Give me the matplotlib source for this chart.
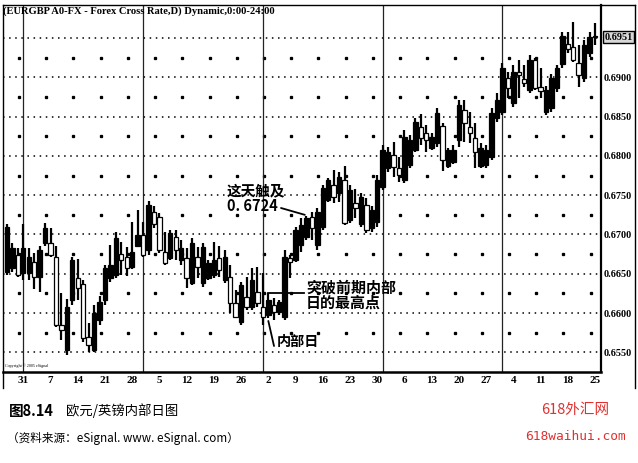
import numpy as np
import pandas as pd
import matplotlib
matplotlib.use('Agg')
import matplotlib.pyplot as plt
from matplotlib.lines import Line2D
import matplotlib.transforms as mtransforms

# EUR/GBP daily, 26 May 2004 - 25 Oct 2004
dates = pd.bdate_range('2004-05-26', '2004-10-25')

opens = [0.6652, 0.6657, 0.6674, 0.6651, 0.6651, 0.6665, 0.6646, 0.6689, 0.6689, 0.6671,
         0.6585, 0.6553, 0.6617, 0.6645, 0.6637, 0.6570, 0.6553, 0.6591, 0.6617, 0.6645,
         0.6649, 0.6675, 0.6671, 0.6659, 0.6685, 0.6699, 0.6680, 0.6729, 0.6722, 0.6678,
         0.6670, 0.6697, 0.6668, 0.6670, 0.6638, 0.6671, 0.6638, 0.6645, 0.6649, 0.6670,
         0.6642, 0.6646, 0.6613, 0.6589, 0.6620, 0.6608, 0.6627, 0.6608, 0.6598, 0.6610,
         0.6601, 0.6595, 0.6670, 0.6668, 0.6687, 0.6697, 0.6722, 0.6687, 0.6710, 0.6744,
         0.6763, 0.6753, 0.6769, 0.6718, 0.6740, 0.6713, 0.6738, 0.6708, 0.6716, 0.6760,
         0.6785, 0.6801, 0.6785, 0.6769, 0.6788, 0.6808, 0.6837, 0.6829, 0.6810, 0.6816,
         0.6838, 0.6787, 0.6792, 0.6820, 0.6858, 0.6837, 0.6823, 0.6787, 0.6788, 0.6799,
         0.6848, 0.6856, 0.6899, 0.6867, 0.6907, 0.6898, 0.6884, 0.6922, 0.6888, 0.6856,
         0.6861, 0.6886, 0.6917, 0.6942, 0.6938, 0.6918, 0.6899, 0.6931, 0.6953]
highs = [0.6713, 0.6689, 0.6683, 0.6713, 0.6683, 0.6677, 0.6685, 0.6715, 0.6708, 0.6685,
         0.6626, 0.6618, 0.6671, 0.6669, 0.6642, 0.6587, 0.6610, 0.6622, 0.6661, 0.6687,
         0.6703, 0.6690, 0.6684, 0.6716, 0.6731, 0.6716, 0.6743, 0.6736, 0.6727, 0.6703,
         0.6706, 0.6706, 0.6693, 0.6683, 0.6696, 0.6684, 0.6689, 0.6668, 0.6690, 0.6685,
         0.6680, 0.6661, 0.6629, 0.6640, 0.6646, 0.6657, 0.6659, 0.6651, 0.6626, 0.6619,
         0.6617, 0.6680, 0.6674, 0.6710, 0.6721, 0.6724, 0.6729, 0.6734, 0.6763, 0.6772,
         0.6782, 0.6780, 0.6787, 0.6763, 0.6758, 0.6753, 0.6746, 0.6736, 0.6776, 0.6814,
         0.6811, 0.6818, 0.6799, 0.6833, 0.6827, 0.6848, 0.6853, 0.6839, 0.6829, 0.6861,
         0.6842, 0.6810, 0.6814, 0.6871, 0.6871, 0.6856, 0.6842, 0.6816, 0.6814, 0.6861,
         0.6880, 0.6918, 0.6907, 0.6916, 0.6922, 0.6916, 0.6928, 0.6925, 0.6912, 0.6889,
         0.6904, 0.6916, 0.6958, 0.6958, 0.6970, 0.6941, 0.6947, 0.6958, 0.6969]
lows = [0.6649, 0.6652, 0.6646, 0.6642, 0.6642, 0.6631, 0.6627, 0.6685, 0.6671, 0.6582,
        0.6566, 0.6547, 0.6610, 0.6617, 0.6563, 0.6551, 0.6551, 0.6585, 0.6610, 0.6640,
        0.6645, 0.6649, 0.6647, 0.6656, 0.6684, 0.6671, 0.6674, 0.6708, 0.6677, 0.6661,
        0.6668, 0.6668, 0.6661, 0.6632, 0.6636, 0.6645, 0.6633, 0.6642, 0.6645, 0.6646,
        0.6638, 0.6600, 0.6594, 0.6585, 0.6604, 0.6604, 0.6608, 0.6585, 0.6594, 0.6591,
        0.6598, 0.6591, 0.6645, 0.6665, 0.6678, 0.6693, 0.6693, 0.6680, 0.6706, 0.6741,
        0.6740, 0.6741, 0.6712, 0.6715, 0.6721, 0.6710, 0.6702, 0.6703, 0.6710, 0.6757,
        0.6780, 0.6773, 0.6767, 0.6766, 0.6785, 0.6805, 0.6814, 0.6805, 0.6808, 0.6811,
        0.6781, 0.6785, 0.6790, 0.6811, 0.6818, 0.6816, 0.6785, 0.6785, 0.6785, 0.6795,
        0.6843, 0.6852, 0.6874, 0.6862, 0.6874, 0.6888, 0.6880, 0.6884, 0.6874, 0.6852,
        0.6856, 0.6881, 0.6912, 0.6931, 0.6919, 0.6888, 0.6894, 0.6926, 0.6941]
closes = [0.6710, 0.6683, 0.6649, 0.6683, 0.6671, 0.6646, 0.6680, 0.6708, 0.6674, 0.6585,
          0.6579, 0.6608, 0.6668, 0.6632, 0.6568, 0.6560, 0.6600, 0.6614, 0.6657, 0.6661,
          0.6696, 0.6668, 0.6657, 0.6678, 0.6699, 0.6674, 0.6738, 0.6713, 0.6680, 0.6664,
          0.6702, 0.6680, 0.6683, 0.6645, 0.6689, 0.6659, 0.6684, 0.6664, 0.6668, 0.6655,
          0.6671, 0.6613, 0.6595, 0.6636, 0.6608, 0.6642, 0.6613, 0.6595, 0.6617, 0.6601,
          0.6614, 0.6671, 0.6665, 0.6706, 0.6712, 0.6721, 0.6708, 0.6729, 0.6759, 0.6769,
          0.6748, 0.6773, 0.6715, 0.6757, 0.6734, 0.6748, 0.6706, 0.6731, 0.6769, 0.6808,
          0.6805, 0.6786, 0.6776, 0.6824, 0.6820, 0.6843, 0.6823, 0.6820, 0.6824, 0.6855,
          0.6795, 0.6808, 0.6808, 0.6865, 0.6842, 0.6829, 0.6805, 0.6810, 0.6808, 0.6855,
          0.6871, 0.6912, 0.6886, 0.6907, 0.6903, 0.6893, 0.6922, 0.6886, 0.6883, 0.6884,
          0.6899, 0.6912, 0.6953, 0.6936, 0.6922, 0.6903, 0.6941, 0.6951, 0.6951]

price_levels = [0.6550, 0.6600, 0.6650, 0.6700, 0.6750, 0.6800, 0.6850, 0.6900, 0.6950]
last_price = '0.6951'
touch_bar = 55      # 这天触及 0.6724
inside_bar = 48     # 内部日

serif = 'Liberation Serif'
cjk = ['Noto Sans CJK SC', 'DejaVu Sans']

W, H = 638, 463
fig = plt.figure(figsize=(W / 100, H / 100), dpi=100)
ax = fig.add_axes([3 / W, 1 - 372 / H, 598 / W, 367 / H])

x = np.arange(len(dates))
o = np.array(opens); c = np.array(closes)
hi = np.array(highs); lo = np.array(lows)

# grid
for lv in price_levels:
    ax.axhline(lv, color='black', lw=1.1, ls=(0, (1.0, 3.0)), zorder=1)
mondays = [i for i, d in enumerate(dates) if d.weekday() == 0]
for k in range(len(price_levels) - 1):
    mid = (price_levels[k] + price_levels[k + 1]) / 2
    ax.plot(np.array(mondays) - 0.8, [mid] * len(mondays), ls='none', marker='s',
            ms=1.4, color='black', zorder=1)

month_ends = [i for i in range(len(dates) - 1) if dates[i].month != dates[i + 1].month]
for m in month_ends:
    ax.axvline(m, color='#222222', lw=0.9, zorder=1)

# candles
ax.vlines(x, lo, hi, color='black', lw=1.6, zorder=2)
up = c >= o
body_h = np.maximum(np.abs(c - o), 0.00012)
ax.bar(x, body_h, bottom=np.minimum(o, c), width=0.8,
       color=np.where(up, 'black', 'white'), edgecolor='black', lw=0.9, zorder=3)

ax.set_xlim(-0.73, 109.1)
ax.set_ylim(0.65251, 0.69919)

ax.yaxis.tick_right()
ax.set_yticks(price_levels[:-1])
ax.set_yticklabels(['%.4f' % v for v in price_levels[:-1]])
ax.set_xticks(mondays)
ax.set_xticklabels([str(dates[i].day) for i in mondays])
ax.tick_params(axis='y', length=0, pad=2, labelsize=7.3)
ax.tick_params(axis='x', length=0, pad=3, labelsize=8)
for lab in ax.get_xticklabels() + ax.get_yticklabels():
    lab.set_fontfamily(serif)
    lab.set_fontweight('bold')

for s in ax.spines.values():
    s.set_linewidth(1.0)
ax.spines['bottom'].set_linewidth(1.8)
ax.spines['right'].set_linewidth(1.6)

trans = mtransforms.blended_transform_factory(ax.transAxes, ax.transData)
ax.text(1.006, c[-1], last_price, transform=trans, fontsize=7.3, family=serif,
        fontweight='bold', va='center', ha='left',
        bbox=dict(boxstyle='square,pad=0.12', fc='#d8d8d8', ec='black', lw=1.0))

ax.text(0.0, 0.982, '(EURGBP A0-FX - Forex Cross Rate,D) Dynamic,0:00-24:00',
        transform=ax.transAxes, fontsize=7.6, family=serif, fontweight='bold',
        va='center', ha='left')
ax.text(0.004, 0.012, 'Copyright \u00a9 2005 eSignal', transform=ax.transAxes,
        fontsize=3, family=serif, va='bottom', ha='left')

# outer frame
def px(xp, yp):
    return (xp / W, 1 - yp / H)

for seg in [((601, 5), (635, 5)), ((635, 5), (635, 388)), ((3, 372), (3, 388))]:
    (x0, y0), (x1, y1) = px(*seg[0]), px(*seg[1])
    fig.add_artist(Line2D([x0, x1], [y0, y1], color='black', lw=1.0))

# annotations
fs_note = 10.5
fig.text(*px(227, 190), '这天触及', family=cjk, fontweight='bold', fontsize=fs_note,
         va='center', ha='left')
fig.text(*px(227, 206), '0. 6724', family=cjk, fontweight='bold', fontsize=fs_note,
         va='center', ha='left')
ax.annotate('', xy=(touch_bar - 0.3, hi[touch_bar] + 0.0001), xytext=px(281, 208),
            textcoords='figure fraction',
            arrowprops=dict(arrowstyle='-', lw=1.3, color='black', shrinkA=0, shrinkB=0))

ax.plot([inside_bar, inside_bar + 6.6], [hi[inside_bar]] * 2, color='black', lw=1.3, zorder=4)
fig.text(*px(306, 288), '突破前期内部', family=cjk, fontweight='bold', fontsize=10.8,
         va='center', ha='left')
fig.text(*px(306, 303), '日的最高点', family=cjk, fontweight='bold', fontsize=10.8,
         va='center', ha='left')

ax.annotate('', xy=(inside_bar, lo[inside_bar] - 0.0004), xytext=px(274, 346),
            textcoords='figure fraction',
            arrowprops=dict(arrowstyle='-', lw=1.3, color='black', shrinkA=0, shrinkB=0))
fig.text(*px(277, 342), '内部日', family=cjk, fontweight='bold', fontsize=10.2,
         va='center', ha='left')

# caption
fig.text(*px(9, 411), '图8.14', family=cjk, fontweight='bold', fontsize=10.5,
         va='center', ha='left')
fig.text(*px(66, 411), '欧元/英镑内部日图', family=cjk, fontsize=9.6,
         va='center', ha='left')
fig.text(*px(7, 438), '（资料来源：eSignal. www. eSignal. com）', family=cjk,
         fontsize=8.4, va='center', ha='left')
fig.text(*px(575, 410), '618外汇网', family=cjk, fontsize=10.5, color='#e0302f',
         va='center', ha='center')
fig.text(*px(575, 437), '618waihui.com', family=['DejaVu Sans Mono'], fontsize=9.3,
         color='#e0302f', va='center', ha='center')

fig.savefig('out.png', dpi=100)
